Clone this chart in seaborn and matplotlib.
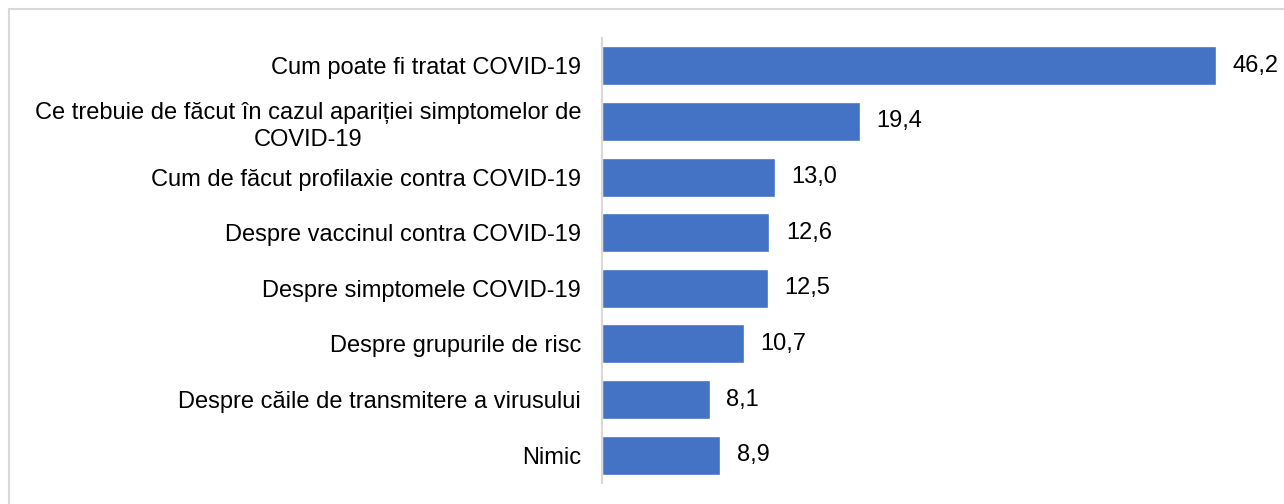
import matplotlib
matplotlib.use("Agg")
import matplotlib.pyplot as plt
import seaborn as sns
import pandas as pd
from matplotlib.patches import Rectangle

categories = [
    "Cum poate fi tratat COVID-19",
    "Ce trebuie de făcut în cazul apariției simptomelor de\nCOVID-19",
    "Cum de făcut profilaxie contra COVID-19",
    "Despre vaccinul contra COVID-19",
    "Despre simptomele COVID-19",
    "Despre grupurile de risc",
    "Despre căile de transmitere a virusului",
    "Nimic",
]
values = [46.2, 19.4, 13.0, 12.6, 12.5, 10.7, 8.1, 8.9]

df = pd.DataFrame({"cat": categories, "val": values})

sns.set_style("white")
plt.rcParams["font.family"] = ["Liberation Sans", "DejaVu Sans"]

fig = plt.figure(figsize=(12.84, 5.04), dpi=100)
ax = fig.add_axes([602/1284, 1-483/504, 664/1284, 445/504])

sns.barplot(data=df, x="val", y="cat", orient="h", color="#4472C4",
            saturation=1, width=0.7, ax=ax)

ax.set_xlim(0, 50)
ax.set_ylim(7.5, -0.5)
ax.set_xlabel("")
ax.set_ylabel("")
ax.set_xticks([])
for s in ["top", "right", "bottom"]:
    ax.spines[s].set_visible(False)
ax.spines["left"].set_color("#D9D9D9")
ax.spines["left"].set_linewidth(1.5)
ax.tick_params(axis="y", length=0, pad=15, labelsize=17, labelcolor="black")
for lab in ax.get_yticklabels():
    lab.set_multialignment("center")
    lab.set_linespacing(1.3)

for i, v in enumerate(values):
    ax.text(v + 1.25, i, f"{v:.1f}".replace(".", ","), va="center", ha="left",
            fontsize=17, color="black")

fig.patches.append(Rectangle((9/1284, -0.1), 1.2, (504-9)/504 + 0.1,
                             transform=fig.transFigure, fill=False,
                             edgecolor="#D9D9D9", linewidth=1.5))

fig.savefig("out.png", dpi=100)
